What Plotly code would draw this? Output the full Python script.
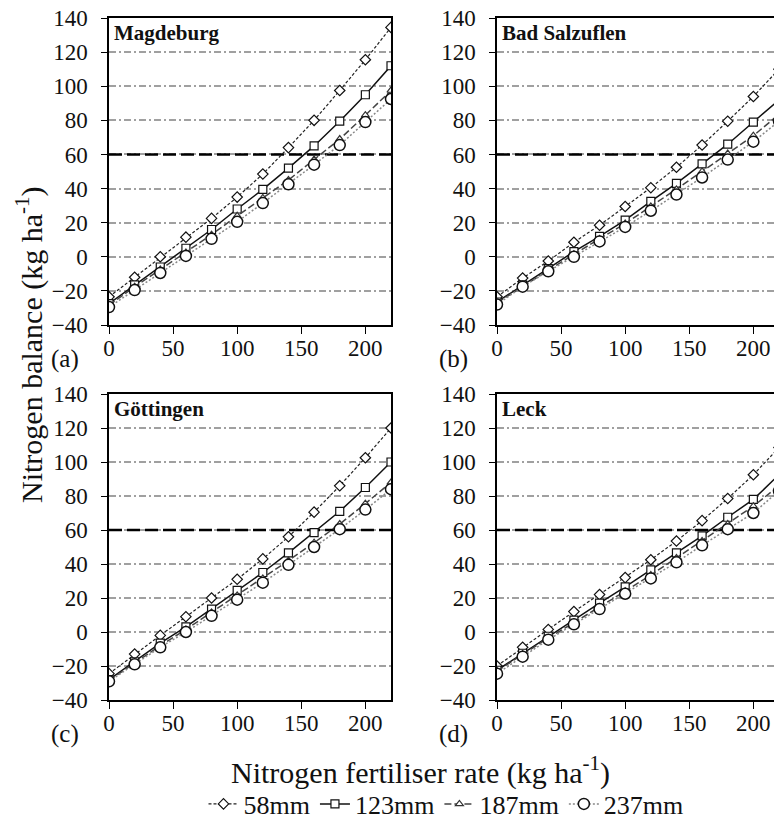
import plotly.graph_objects as go

# Nitrogen fertiliser rate (kg/ha)
rate = [0, 20, 40, 60, 80, 100, 120, 140, 160, 180, 200, 220]

series_names = ["58mm", "123mm", "187mm", "237mm"]
sites = ["Magdeburg", "Bad Salzuflen", "Göttingen", "Leck"]
panel_tags = ["(a)", "(b)", "(c)", "(d)"]

# Nitrogen balance (kg/ha) per site and rainfall scenario
magdeburg_58 = [-23.5, -12, 0, 11.5, 22.5, 35, 48.5, 64, 80, 97.5, 115.5, 134.5]
magdeburg_123 = [-27.5, -16.5, -6, 5, 16, 28, 39.5, 52, 65, 79.5, 95, 112]
magdeburg_187 = [-28.5, -17.5, -7.5, 2.5, 13, 24, 34.5, 45, 57, 69, 83, 97.5]
magdeburg_237 = [-29.5, -19.5, -9.5, 0.5, 10.5, 20.5, 31.5, 42.5, 54, 65.5, 79, 92.5]

salzuflen_58 = [-23.5, -12.5, -2.5, 8.5, 18.5, 29.5, 40.5, 52.5, 65.5, 79.5, 94, 110]
salzuflen_123 = [-26.5, -16.5, -7, 3, 12, 21.5, 32.5, 43, 54.5, 66, 79, 92]
salzuflen_187 = [-27, -17.5, -7.5, 1.5, 10.5, 19.5, 29.5, 39.5, 50, 60.5, 71, 83.5]
salzuflen_237 = [-28, -17.5, -8.5, 0, 9, 17.5, 27, 36.5, 46.5, 57, 67.5, 79.5]

goettingen_58 = [-24.5, -13, -2, 9, 20, 31, 43, 56, 70.5, 86, 102.5, 120]
goettingen_123 = [-28, -17.5, -6.5, 3, 13.5, 24.5, 35, 46.5, 58.5, 71, 85, 100]
goettingen_187 = [-28.5, -18, -8, 1.5, 11.5, 21.5, 31.5, 42, 52.5, 63.5, 75.5, 88]
goettingen_237 = [-29, -19, -9, 0, 9.5, 19, 29, 39.5, 50, 60.5, 72, 84]

leck_58 = [-20, -9, 1.5, 12, 22, 32, 42.5, 53.5, 65.5, 78.5, 92.5, 108.5]
leck_123 = [-22.5, -12.5, -2.5, 7, 17, 26.5, 36.5, 46.5, 56.5, 67.5, 78, 92.5]
leck_187 = [-23, -13, -3.5, 5.5, 14.5, 24, 33.5, 43.5, 53.5, 63.5, 74, 86]
leck_237 = [-24.5, -14.5, -4.5, 4.5, 13.5, 22.5, 31.5, 41, 51, 60.5, 70, 83]

site_data = [
    [magdeburg_58, magdeburg_123, magdeburg_187, magdeburg_237],
    [salzuflen_58, salzuflen_123, salzuflen_187, salzuflen_237],
    [goettingen_58, goettingen_123, goettingen_187, goettingen_237],
    [leck_58, leck_123, leck_187, leck_237],
]

y_ticks = list(range(-40, 141, 20))
x_ticks = [0, 50, 100, 150, 200]
threshold = 60

FONT = "Liberation Serif, Times New Roman, serif"
W, H = 774, 826


def fx(p):
    return p / W


def fy(p):
    return 1 - p / H


# line / marker style for each rainfall scenario
styles = [
    dict(line=dict(color="#222", width=1.2, dash="3px,2px"),
         marker=dict(symbol="diamond", size=8, color="white", line=dict(color="#111", width=1.2))),
    dict(line=dict(color="#111", width=1.5, dash="solid"),
         marker=dict(symbol="square", size=8, color="white", line=dict(color="#111", width=1.2))),
    dict(line=dict(color="#444", width=1.5, dash="7px,3px"),
         marker=dict(symbol="triangle-up", size=7, color="white", line=dict(color="#333", width=1.2))),
    dict(line=dict(color="#888", width=1.5, dash="2px,2px"),
         marker=dict(symbol="circle", size=11, color="white", line=dict(color="#111", width=1.5))),
]

# panel boxes in pixels: left, top, right, bottom
boxes = [(109, 18, 391, 325), (497, 18, 774, 325), (109, 394, 391, 700), (497, 394, 774, 700)]
px_per_unit = (391 - 109) / 220.0

fig = go.Figure()

for i, (site, data) in enumerate(zip(sites, site_data)):
    ax = "" if i == 0 else str(i + 1)
    l, t, r, b = boxes[i]

    # threshold line, drawn first so the series sit on top
    fig.add_trace(go.Scatter(
        x=[0, 220], y=[threshold, threshold], mode="lines", showlegend=False,
        hoverinfo="skip", line=dict(color="black", width=2.5, dash="13px,5px"),
        xaxis="x" + ax, yaxis="y" + ax,
    ))

    for j, (name, vals) in enumerate(zip(series_names, data)):
        fig.add_trace(go.Scatter(
            x=rate, y=vals, name=name, mode="lines+markers",
            line=styles[j]["line"], marker=styles[j]["marker"],
            xaxis="x" + ax, yaxis="y" + ax,
            showlegend=(i == 0), legendgroup=name,
        ))

    right_cut = i in (1, 3)
    x_end = (r - l) / px_per_unit
    fig.layout["xaxis" + ax] = dict(
        domain=[fx(l), fx(r)], range=[0, x_end], anchor="y" + ax,
        tickvals=x_ticks, ticks="outside", ticklen=7, tickwidth=1.3, tickcolor="black",
        showline=True, linecolor="black", linewidth=1.5, mirror=True,
        showgrid=False, zeroline=False, ticklabelstandoff=-5,
        tickfont=dict(family=FONT, size=23, color="#111"),
    )
    fig.layout["yaxis" + ax] = dict(
        domain=[fy(b), fy(t)], range=[-40, 140], anchor="x" + ax,
        tickvals=y_ticks, ticks="outside", ticklen=6, tickwidth=1.3, tickcolor="black",
        showline=True, linecolor="black", linewidth=1.5, mirror=(not right_cut),
        showgrid=True, gridcolor="#a0a0a0", gridwidth=1.5, griddash="7px,3px,2px,3px",
        zeroline=False, ticklabelstandoff=9,
        tickfont=dict(family=FONT, size=23, color="#111"),
    )

    # site name, top-left inside panel
    fig.add_annotation(text="<b>" + site + "</b>", xref="paper", yref="paper",
                       x=fx(l + 3), y=fy(t + 15), xanchor="left", yanchor="middle",
                       showarrow=False, font=dict(family=FONT, size=21, color="#111"))
    # panel letter
    fig.add_annotation(text=panel_tags[i], xref="paper", yref="paper",
                       x=fx(l - 44), y=fy(b + 34), xanchor="center", yanchor="middle",
                       showarrow=False, font=dict(family=FONT, size=25, color="#111"))

fig.add_annotation(text="Nitrogen balance (kg ha<sup>-1</sup>)", xref="paper", yref="paper",
                   x=fx(29), y=fy(345), textangle=-90, showarrow=False,
                   xanchor="center", yanchor="middle",
                   font=dict(family=FONT, size=30, color="#111"))
fig.add_annotation(text="Nitrogen fertiliser rate (kg ha<sup>-1</sup>)", xref="paper", yref="paper",
                   x=fx(420), y=fy(770), showarrow=False,
                   xanchor="center", yanchor="middle",
                   font=dict(family=FONT, size=30, color="#111"))

fig.update_layout(
    width=W, height=H,
    margin=dict(l=0, r=0, t=0, b=0, autoexpand=False),
    paper_bgcolor="white", plot_bgcolor="white",
    font=dict(family=FONT, color="#111"),
    legend=dict(orientation="h", x=fx(446), y=fy(804), xanchor="center", yanchor="middle",
                font=dict(family=FONT, size=26, color="#111"), bgcolor="rgba(0,0,0,0)",
                itemwidth=30, tracegroupgap=0),
)

fig.write_html("out.html")
